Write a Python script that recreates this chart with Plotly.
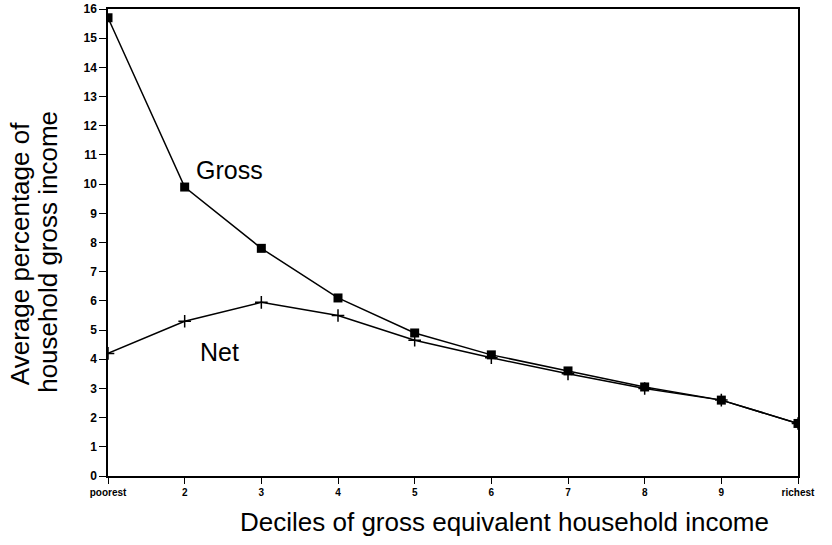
import plotly.graph_objects as go

deciles = [1, 2, 3, 4, 5, 6, 7, 8, 9, 10]
tick_labels = ["poorest", "2", "3", "4", "5", "6", "7", "8", "9", "richest"]
gross = [15.7, 9.9, 7.8, 6.1, 4.9, 4.15, 3.6, 3.05, 2.6, 1.8]
net = [4.2, 5.3, 5.95, 5.5, 4.65, 4.05, 3.5, 3.0, 2.6, 1.8]

FONT = "Liberation Sans, Arial, Helvetica"

fig = go.Figure()
fig.add_trace(go.Scatter(x=deciles, y=net, mode="lines+markers", name="Net",
                         line=dict(color="black", width=1.5),
                         marker=dict(symbol="cross-thin", size=9, line=dict(color="black", width=1.5))))
fig.add_trace(go.Scatter(x=deciles, y=gross, mode="lines+markers", name="Gross",
                         line=dict(color="black", width=1.5),
                         marker=dict(symbol="square", size=9, color="black")))

fig.add_annotation(x=2.58, y=10.48, text="Gross", showarrow=False,
                   xanchor="center", yanchor="middle",
                   font=dict(family=FONT, size=25, color="black"))
fig.add_annotation(x=2.46, y=4.25, text="Net", showarrow=False,
                   xanchor="center", yanchor="middle",
                   font=dict(family=FONT, size=25, color="black"))

# axis titles
fig.add_annotation(xref="paper", yref="paper", x=-0.1275, y=0.475, text="Average percentage of",
                   xanchor="center", yanchor="middle",
                   textangle=-90, showarrow=False, font=dict(family=FONT, size=26, color="black"))
fig.add_annotation(xref="paper", yref="paper", x=-0.087, y=0.48, text="household gross income",
                   xanchor="center", yanchor="middle",
                   textangle=-90, showarrow=False, font=dict(family=FONT, size=26, color="black"))
fig.add_annotation(xref="paper", yref="paper", x=0.575, y=-0.0985,
                   text="Deciles of gross equivalent household income",
                   xanchor="center", yanchor="middle",
                   showarrow=False, font=dict(family=FONT, size=26, color="black"))

fig.update_layout(
    width=832, height=545,
    margin=dict(l=108, r=34, t=9, b=69),
    paper_bgcolor="white", plot_bgcolor="white",
    showlegend=False,
    font=dict(family=FONT, color="black"),
)
fig.update_xaxes(range=[1, 10], tickvals=deciles, ticktext=tick_labels, automargin=False,
                 showgrid=False, zeroline=False, showline=True, linecolor="black", linewidth=1.5,
                 mirror=True, ticks="outside", ticklen=6, tickcolor="black",
                 ticklabeloverflow="allow",
                 tickfont=dict(size=10, weight="bold"))
fig.update_yaxes(range=[0, 16], dtick=1, automargin=False,
                 showgrid=False, zeroline=False, showline=True, linecolor="black", linewidth=1.5,
                 mirror=True, ticks="outside", ticklen=7, tickcolor="black",
                 ticklabeloverflow="allow",
                 tickfont=dict(size=12, weight="bold"))

fig.write_html("out.html", config={"displayModeBar": False},
               post_script="document.body.style.margin='0px';")
